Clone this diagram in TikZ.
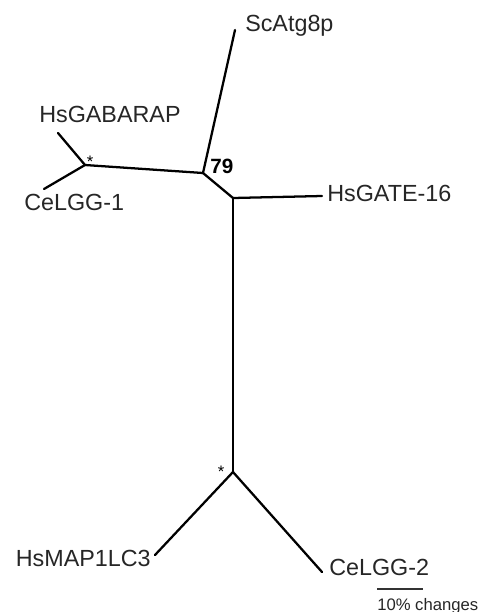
\documentclass[tikz,border=0pt]{standalone}
\usepackage{fontspec}
\setmainfont{Liberation Sans}
\begin{document}
\begin{tikzpicture}[x=0.75pt,y=-0.75pt,
  branch/.style={line width=1.7pt,line cap=round,line join=round},
  lbl/.style={inner sep=0pt,font=\fontsize{17.5}{20}\selectfont,text=black!85},
  star/.style={inner sep=0pt,anchor=base,font=\fontsize{12.5}{14}\selectfont},
  scalelbl/.style={inner sep=0pt,anchor=base west,font=\fontsize{12.5}{14}\selectfont,text=black!85}]
\useasboundingbox (0,0) rectangle (482,612);
% internal nodes
\coordinate (A) at (203,173);
\coordinate (B) at (85,165);
\coordinate (C) at (233,198);
\coordinate (D) at (233,472);
% tips
\coordinate (tSc) at (235,30);
\coordinate (tGAB) at (58,133);
\coordinate (tCe1) at (44,189);
\coordinate (tGATE) at (322,196);
\coordinate (tMAP) at (155,555);
\coordinate (tCe2) at (322,572);
% branches
\draw[branch] (A) -- (tSc);
\draw[branch] (A) -- (B);
\draw[branch] (B) -- (tGAB);
\draw[branch] (B) -- (tCe1);
\draw[branch] (A) -- (C);
\draw[branch] (C) -- (tGATE);
\draw[branch] (C) -- (D);
\draw[branch] (D) -- (tMAP);
\draw[branch] (D) -- (tCe2);
% labels
\node[lbl,anchor=base west] (lSc) at (245,31) {ScAtg8p};
\node[lbl,anchor=base west] (lGAB) at (39,122) {HsGABARAP};
\node[lbl,anchor=base west] (lCe1) at (24,210) {CeLGG-1};
\node[lbl,anchor=base west] (lGATE) at (327,201) {HsGATE-16};
\node[lbl,anchor=base east] (lMAP) at (151,566) {HsMAP1LC3};
\node[lbl,anchor=base west] (lCe2) at (329,575) {CeLGG-2};
\node[inner sep=0pt,anchor=base west,font=\fontsize{15.5}{18}\bfseries\selectfont] (boot) at (210,173) {79};
\node[star] (s1) at (90,167) {*};
\node[star] (s2) at (221,477) {*};
% scale bar
\coordinate (sb1) at (377,589);
\coordinate (sb2) at (423,589);
\draw[line width=1.4pt,black!80] (sb1) -- (sb2);
\node[scalelbl] (sbl) at (377,610) {10\% changes};
\end{tikzpicture}
\end{document}
